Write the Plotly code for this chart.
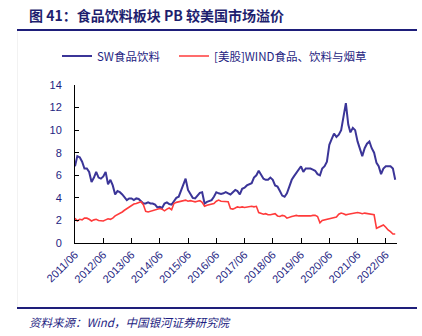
import pandas as pd
import plotly.graph_objects as go

# Monthly values, 2011/06 .. 2022/10
sw_food = [6.8, 7.7, 7.6, 7.2, 6.6, 6.6, 6.3, 5.4, 5.8, 6.3, 5.8, 5.7,
           5.9, 6.3, 5.2, 5.6, 5.1, 4.3, 4.6, 4.5, 4.3, 4.1, 3.8, 3.95,
           3.95, 3.8, 3.95, 3.9, 3.7, 3.5, 3.5, 3.6, 3.5, 3.5, 3.4, 3.15,
           3.2, 3.1, 3.5, 3.6, 3.45, 3.4, 3.7, 4.0, 4.1, 4.6, 5.1, 5.7,
           4.7, 4.3, 4.0, 3.95, 4.2, 4.45, 4.5, 3.5, 3.65, 3.75, 3.8, 4.1,
           4.5, 4.4, 4.35, 4.4, 4.5, 4.4, 4.3, 4.5, 4.7, 4.6, 4.3, 4.8,
           4.9, 5.1, 5.2, 5.3, 5.8, 6.0, 6.4, 6.0, 5.7, 5.6, 5.6, 5.8,
           5.6, 5.1, 5.0, 4.6, 4.2, 4.1, 4.4, 5.0, 5.6, 5.9, 6.2, 6.5,
           6.8, 6.3, 6.6, 6.6, 6.6, 6.5, 6.4, 6.1, 6.0, 6.6, 6.8, 7.2,
           8.7, 9.2, 9.7, 9.4, 9.6, 10.0, 11.3, 12.4, 10.5, 9.8, 10.2, 10.0,
           9.0, 8.4, 7.7, 8.4, 8.8, 9.0, 8.4, 8.0, 7.1, 6.8, 6.1, 6.6,
           6.8, 6.8, 6.8, 6.6, 5.6]

us_food = [2.2, 1.95, 2.1, 2.05, 2.2, 2.2, 2.1, 1.95, 2.05, 2.1, 2.0, 1.95,
           1.95, 2.05, 2.15, 2.1, 2.2, 2.4, 2.5, 2.6, 2.75, 2.9, 3.05, 3.2,
           3.35, 3.45, 3.5, 3.6, 3.65, 3.4, 2.8, 2.75, 2.8, 2.85, 2.9, 3.0,
           3.05, 3.0, 2.85, 3.0, 3.1, 2.95, 3.5, 3.6, 3.65, 3.7, 3.75, 3.8,
           3.7, 3.75, 3.7, 3.65, 3.7, 3.75, 3.6, 3.25, 3.35, 3.4, 3.4, 3.5,
           3.7, 3.8, 3.7, 3.7, 3.65, 3.65, 3.05, 3.0, 3.1, 3.2, 3.15, 3.2,
           3.15, 3.2, 3.2, 3.25, 3.2, 3.25, 2.7, 2.6, 2.55, 2.6, 2.5, 2.5,
           2.55, 2.6, 2.4, 2.35, 2.45, 2.4, 2.2, 2.3, 2.35, 2.4, 2.45, 2.4,
           2.4, 2.35, 2.35, 2.4, 2.4, 2.45, 2.45, 2.35, 1.8, 2.0, 2.05, 2.1,
           2.1, 2.15, 2.2, 2.3, 2.55, 2.65, 2.6, 2.5, 2.55, 2.6, 2.6, 2.65,
           2.7, 2.65, 2.6, 2.65, 2.6, 2.55, 2.5, 2.5, 1.3, 1.4, 1.5, 1.6,
           1.4, 1.15, 1.0, 0.8, 0.8]

tick_labels = ["2011/06", "2012/06", "2013/06", "2014/06", "2015/06", "2016/06",
               "2017/06", "2018/06", "2019/06", "2020/06", "2021/06", "2022/06"]
y_ticks = [0, 2, 4, 6, 8, 10, 12, 14]

months = pd.date_range("2011-06-01", periods=len(sw_food), freq="MS")
tick_vals = [pd.Timestamp(t.replace("/", "-") + "-01") for t in tick_labels]

navy = "#1E1E82"
cjk = "Noto Sans CJK SC"

fig = go.Figure()
fig.add_trace(go.Scatter(x=months, y=sw_food, mode="lines", name="SW食品饮料",
                         line=dict(color="#3B3598", width=2), legend="legend"))
fig.add_trace(go.Scatter(x=months, y=us_food, mode="lines", name="[美股]WIND食品、饮料与烟草",
                         line=dict(color="#FF3B3B", width=1.6), legend="legend2"))

W, H = 422, 336
L, R, T, B = 75, 397, 85, 243
def px(x):
    return (x - L) / (R - L)
def py(y):
    return (B - y) / (B - T)

leg_common = dict(orientation="h", xanchor="left", yanchor="middle",
                  font=dict(family=cjk, size=11.5, color=navy),
                  bgcolor="rgba(0,0,0,0)", borderwidth=0, itemwidth=30)

fig.update_layout(
    width=W, height=H,
    margin=dict(l=L, r=W - R, t=T, b=H - B, pad=0),
    paper_bgcolor="white", plot_bgcolor="white",
    showlegend=True,
    legend=dict(x=px(57), y=py(56), **leg_common),
    legend2=dict(x=px(174), y=py(56), **leg_common),
    xaxis=dict(type="date", range=[months[0], pd.Timestamp("2022-10-24")],
               tickvals=tick_vals, ticktext=tick_labels, tickangle=-45,
               ticks="inside", ticklen=5, tickcolor="black", tickwidth=1,
               showline=True, linecolor="black", linewidth=1,
               showgrid=False, zeroline=False,
               tickfont=dict(family="Liberation Sans, Arial", size=11, color=navy)),
    yaxis=dict(range=[0, 14], tickvals=y_ticks,
               ticks="inside", ticklen=4, tickcolor="black", tickwidth=1,
               showline=True, linecolor="black", linewidth=1,
               showgrid=False, zeroline=False, ticklabelstandoff=10,
               tickfont=dict(family="Liberation Sans, Arial", size=11, color=navy)),
    shapes=[
        dict(type="line", xref="paper", yref="paper", x0=px(17), x1=px(417),
             y0=py(30), y1=py(30), line=dict(color="#1E1E7A", width=2)),
        dict(type="line", xref="paper", yref="paper", x0=px(17), x1=px(417),
             y0=py(308), y1=py(308), line=dict(color="#1E1E7A", width=2)),
        dict(type="line", xref="paper", yref="paper", x0=px(17.5), x1=px(17.5),
             y0=py(31), y1=py(307), line=dict(color="#F2F2F2", width=1)),
    ],
    annotations=[
        dict(text="<b>图 41：食品饮料板块 PB 较美国市场溢价</b>", xref="paper", yref="paper",
             x=px(27), y=py(15), xanchor="left", yanchor="middle", showarrow=False,
             font=dict(family=cjk, size=14, color="#1E1E6E")),
        dict(text="<i>资料来源：Wind，中国银河证券研究院</i>", xref="paper", yref="paper",
             x=px(27), y=py(322), xanchor="left", yanchor="middle", showarrow=False,
             font=dict(family=cjk, size=11.5, color=navy)),
    ],
)

fig.write_html("out.html")
